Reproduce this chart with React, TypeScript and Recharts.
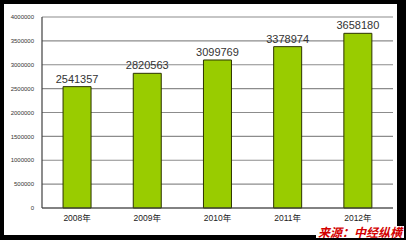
import React from 'react';
import { BarChart, Bar, XAxis, YAxis, CartesianGrid, LabelList } from 'recharts';

const YEARS = ['2008年', '2009年', '2010年', '2011年', '2012年'];
const VALUES = [2541357, 2820563, 3099769, 3378974, 3658180];
const Y_TICKS = [0, 500000, 1000000, 1500000, 2000000, 2500000, 3000000, 3500000, 4000000];
const EDGE_TICKS = [1, 2, 3, 4];
const SOURCE = '来源：中经纵横';

const data = YEARS.map((year, i) => ({ year, value: VALUES[i] }));

const FONT = '"Liberation Sans", "Noto Sans CJK SC", sans-serif';

const App: React.FC = () => {
  return (
    <div style={{ position: 'absolute', left: 0, top: 0, width: 406, height: 240, background: '#000' }}>
      <div style={{ position: 'absolute', left: 4, top: 4, width: 393, height: 231, background: '#fff' }} />
      <div style={{ position: 'absolute', left: 0, top: 0 }}>
        <BarChart
          width={406}
          height={240}
          data={data}
          margin={{ top: 17, right: 13, bottom: 0, left: 0 }}
          barCategoryGap="30%"
        >
          <CartesianGrid vertical={false} stroke="#8c8c8c" strokeWidth={1.2} />
          <XAxis
            xAxisId="edges"
            type="number"
            domain={[0, 5]}
            ticks={EDGE_TICKS}
            height={0}
            axisLine={false}
            tick={false}
            tickLine={{ stroke: '#404040' }}
            tickSize={3}
            mirror
          />
          <XAxis
            xAxisId="cat"
            dataKey="year"
            height={32}
            axisLine={{ stroke: '#404040', strokeWidth: 1.2 }}
            tickLine={false}
            tickSize={0}
            tickMargin={7}
            tick={{ fill: '#222', fontSize: 8.5, fontFamily: FONT }}
          />
          <YAxis
            domain={[0, 4000000]}
            ticks={Y_TICKS}
            width={42}
            axisLine={{ stroke: '#404040', strokeWidth: 1.2 }}
            tickLine={false}
            interval={0}
            tick={{ fill: '#333', fontSize: 6, fontFamily: FONT }}
          />
          <YAxis
            yAxisId="right"
            orientation="right"
            width={0}
            tick={false}
            tickLine={false}
            axisLine={{ stroke: '#8c8c8c' }}
          />
          <Bar
            dataKey="value"
            xAxisId="cat"
            fill="#99cc00"
            stroke="#2b3300"
            strokeWidth={1}
            isAnimationActive={false}
          >
            <LabelList
              dataKey="value"
              position="top"
              offset={4}
              style={{ fill: '#333', fontSize: 11, fontFamily: FONT }}
            />
          </Bar>
        </BarChart>
      </div>
      <div
        style={{
          position: 'absolute',
          left: 316,
          top: 226,
          background: '#fff',
          color: '#d40000',
          fontSize: 12,
          fontWeight: 'bold',
          fontStyle: 'italic',
          fontFamily: '"Noto Sans CJK SC", sans-serif',
          lineHeight: '12px',
          padding: '0 2px',
          whiteSpace: 'nowrap',
        }}
      >
        {SOURCE}
      </div>
    </div>
  );
};

export default App;
